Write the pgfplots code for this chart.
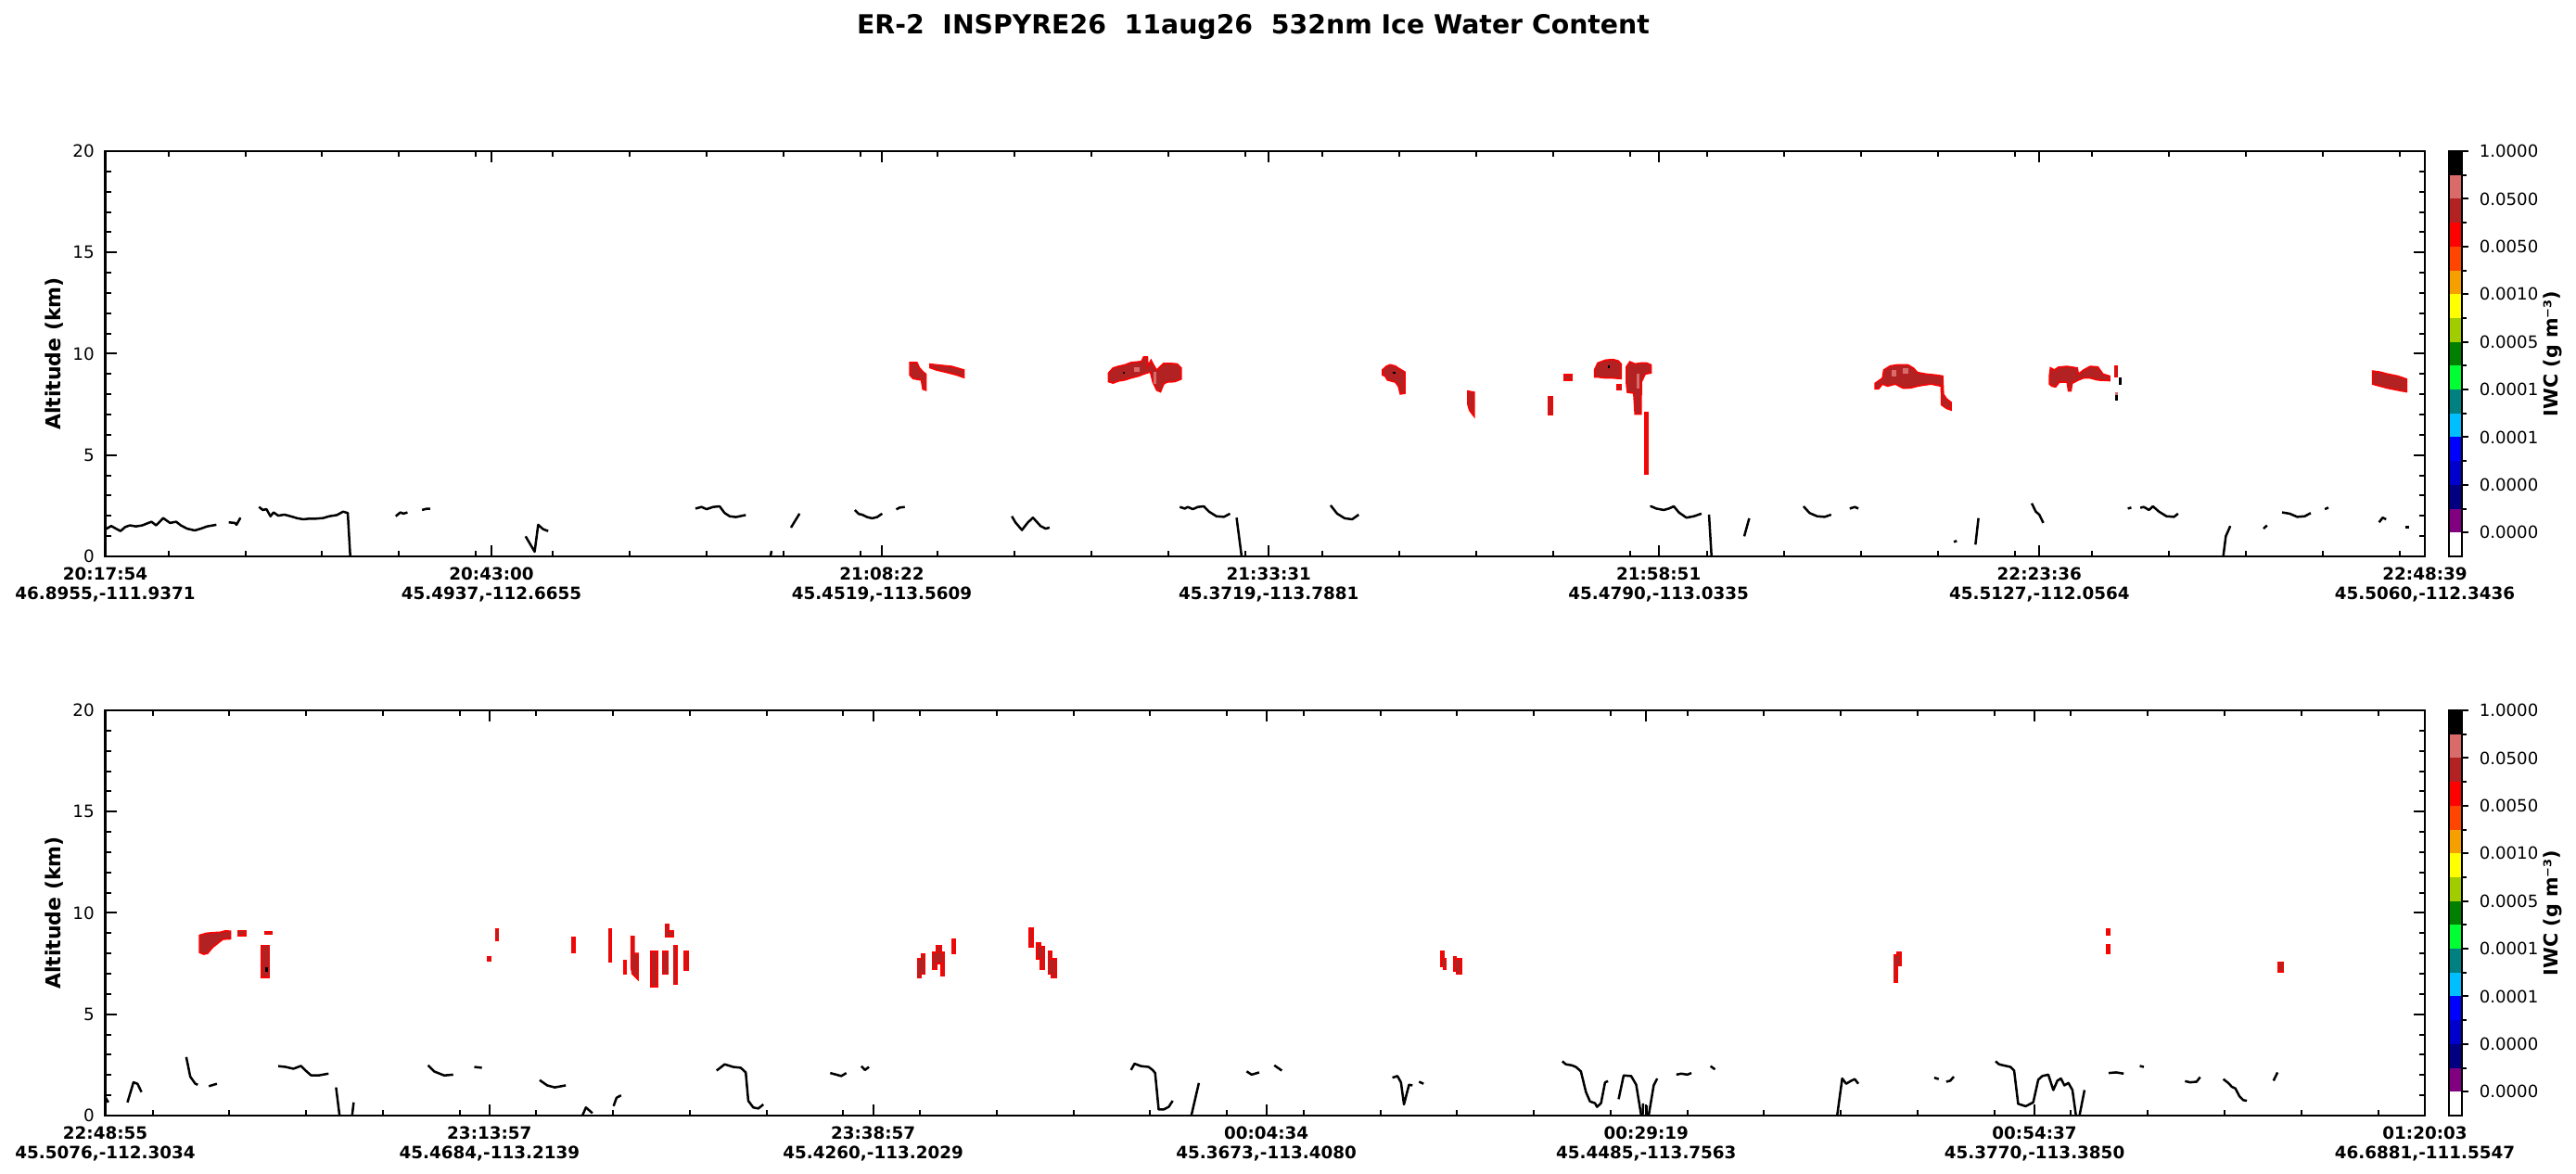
\documentclass[border=0pt]{standalone}
\usepackage{fontspec}
\setmainfont{DejaVu Sans}
\usepackage{pgfplots}
\pgfplotsset{compat=1.18}
\definecolor{cwhite}{HTML}{FFFFFF}
\definecolor{cpurple}{HTML}{800080}
\definecolor{cnavy}{HTML}{000080}
\definecolor{cmblue}{HTML}{0000CD}
\definecolor{cblue}{HTML}{0000FF}
\definecolor{csky}{HTML}{00BFFF}
\definecolor{cteal}{HTML}{008080}
\definecolor{clime}{HTML}{00FF33}
\definecolor{cgreen}{HTML}{008000}
\definecolor{cygreen}{HTML}{A0CC00}
\definecolor{cyellow}{HTML}{FFFF00}
\definecolor{corange}{HTML}{F5A000}
\definecolor{cored}{HTML}{FF4500}
\definecolor{cred}{HTML}{FF0000}
\definecolor{cdred}{HTML}{B22222}
\definecolor{cpink}{HTML}{D96B6B}
\definecolor{cblack}{HTML}{000000}
\pgfplotsset{
  panel/.style={
    scale only axis, width=750.45pt, height=131.1pt, anchor=south west,
    ymin=0, ymax=20, ytick={0,5,10,15,20},
    minor ytick={1,2,3,4,6,7,8,9,11,12,13,14,16,17,18,19},
    axis line style={line width=0.8pt},
    major tick style={line width=0.6pt, black},
    minor tick style={line width=0.6pt, black},
    major tick length=3.7pt, minor tick length=1.9pt,
    tick align=inside,
    /pgf/number format/assume math mode=true,
    yticklabel style={font=\fontsize{5.5}{6.6}\selectfont},
    xticklabel style={font=\fontsize{5.5}{6.3}\selectfont\bfseries, align=center},
    ylabel={Altitude (km)},
    ylabel style={font=\fontsize{6.6}{7.9}\selectfont\bfseries, at={(axis description cs:-0.0218,0.5)}, anchor=center},
  },
  terr/.style={black, line width=0.75pt, line join=round, no markers},
  cld/.style={fill=cdred, draw=cred, line width=0.45pt, no markers},
  cpk/.style={fill=cpink, draw=none, no markers},
  cbk/.style={fill=black, draw=none, no markers},
  cbar/.style={scale only axis, width=4.2pt, height=131.1pt, anchor=south west,
    xmin=0, xmax=1, ymin=0, ymax=17, xtick=\empty,
    ytick={1,3,...,17},
    yticklabels={0.0000,0.0000,0.0001,0.0001,0.0005,0.0010,0.0050,0.0500,1.0000},
    minor ytick={2,4,...,16}, ytick pos=right, yticklabel pos=right, tick align=outside,
    axis line style={line width=0.8pt},
    major tick style={line width=0.6pt, black}, minor tick style={line width=0.6pt, black},
    major tick length=2.1pt, minor tick length=1.5pt,
    yticklabel style={font=\fontsize{5.45}{6.5}\selectfont},
    ylabel={IWC (g m⁻³)},
    ylabel style={font=\fontsize{6.2}{7.4}\selectfont\bfseries, at={(axis description cs:7.96,0.5)}, anchor=center},
    axis on top},
  cell/.style={draw=none, fill=#1, no markers}
}
\newcommand{\colorcells}{%
  \addplot[cell=cwhite]   coordinates {(0,0) (1,0) (1,1) (0,1)} -- cycle;
  \addplot[cell=cpurple]  coordinates {(0,1) (1,1) (1,2) (0,2)} -- cycle;
  \addplot[cell=cnavy]    coordinates {(0,2) (1,2) (1,3) (0,3)} -- cycle;
  \addplot[cell=cmblue]   coordinates {(0,3) (1,3) (1,4) (0,4)} -- cycle;
  \addplot[cell=cblue]    coordinates {(0,4) (1,4) (1,5) (0,5)} -- cycle;
  \addplot[cell=csky]     coordinates {(0,5) (1,5) (1,6) (0,6)} -- cycle;
  \addplot[cell=cteal]    coordinates {(0,6) (1,6) (1,7) (0,7)} -- cycle;
  \addplot[cell=clime]    coordinates {(0,7) (1,7) (1,8) (0,8)} -- cycle;
  \addplot[cell=cgreen]   coordinates {(0,8) (1,8) (1,9) (0,9)} -- cycle;
  \addplot[cell=cygreen]  coordinates {(0,9) (1,9) (1,10) (0,10)} -- cycle;
  \addplot[cell=cyellow]  coordinates {(0,10) (1,10) (1,11) (0,11)} -- cycle;
  \addplot[cell=corange]  coordinates {(0,11) (1,11) (1,12) (0,12)} -- cycle;
  \addplot[cell=cored]    coordinates {(0,12) (1,12) (1,13) (0,13)} -- cycle;
  \addplot[cell=cred]     coordinates {(0,13) (1,13) (1,14) (0,14)} -- cycle;
  \addplot[cell=cdred]    coordinates {(0,14) (1,14) (1,15) (0,15)} -- cycle;
  \addplot[cell=cpink]    coordinates {(0,15) (1,15) (1,16) (0,16)} -- cycle;
  \addplot[cell=cblack]   coordinates {(0,16) (1,16) (1,17) (0,17)} -- cycle;
}
\begin{document}
\begin{tikzpicture}
\path[use as bounding box] (0,0) rectangle (833.4pt,379.8pt);
\node[anchor=base] at (405.45pt,368.7pt) {\fontsize{8.5}{10}\selectfont\bfseries ER-2\ \ INSPYRE26\ \ 11aug26\ \ 532nm Ice Water Content};

% ---------------- top panel ----------------
\begin{axis}[panel, at={(34.05pt,199.8pt)},
  xmin=0, xmax=9045,
  xtick={0,1506,3028,4537,6057,7542,9045},
  xticklabels={{20:17:54\\46.8955,-111.9371},{20:43:00\\45.4937,-112.6655},{21:08:22\\45.4519,-113.5609},{21:33:31\\45.3719,-113.7881},{21:58:51\\45.4790,-113.0335},{22:23:36\\45.5127,-112.0564},{22:48:39\\45.5060,-112.3436}},
  minor xtick={246,546,...,8946}]
% clouds
\addplot[cld] coordinates {(3137,9.57) (3165,9.57) (3175,9.3) (3190,9.1) (3200,9.0) (3200,8.2) (3188,8.25) (3182,8.7) (3150,8.77) (3137,8.95)} -- cycle;
\addplot[cld] coordinates {(3216,9.49) (3260,9.43) (3300,9.38) (3349,9.2) (3349,8.82) (3320,8.95) (3280,9.08) (3240,9.2) (3216,9.31)} -- cycle;
\addplot[cld] coordinates {(3912,8.62) (3912,9.05) (3930,9.3) (3950,9.38) (3975,9.45) (4000,9.57) (4040,9.62) (4049,9.84) (4064,9.84) (4066,9.4) (4078,9.69) (4090,9.4) (4100,9.2) (4127,9.53) (4150,9.53) (4180,9.5) (4196,9.3) (4196,8.75) (4170,8.62) (4140,8.6) (4127,8.5) (4115,8.12) (4100,8.2) (4085,8.6) (4075,9.1) (4050,9.0) (4030,8.9) (4000,8.8) (3975,8.7) (3950,8.65) (3930,8.55)} -- cycle;
\addplot[cpk] coordinates {(4088,8.5) (4100,8.5) (4100,9.1) (4088,9.1)} -- cycle;
\addplot[cpk] coordinates {(4010,9.1) (4035,9.1) (4035,9.35) (4010,9.35)} -- cycle;
\addplot[cbk] coordinates {(3968,9.0) (3976,9.0) (3976,9.1) (3968,9.1)} -- cycle;
\addplot[cld] coordinates {(4980,9.2) (4995,9.38) (5010,9.46) (5030,9.4) (5040,9.31) (5068,9.1) (5068,8.05) (5050,8.01) (5042,8.4) (5030,8.6) (5000,8.70) (4990,8.9) (4980,8.95)} -- cycle;
\addplot[cbk] coordinates {(5022,9.0) (5030,9.0) (5030,9.1) (5022,9.1)} -- cycle;
\addplot[cld] coordinates {(5313,8.16) (5338,8.1) (5338,6.9) (5320,7.2) (5313,7.5)} -- cycle;
\addplot[cld] coordinates {(5627,7.90) (5642,7.90) (5642,6.97) (5627,6.97)} -- cycle;
\addplot[cld] coordinates {(5690,8.97) (5719,8.97) (5719,8.70) (5690,8.70)} -- cycle;
\addplot[cld] coordinates {(5807,9.2) (5820,9.55) (5850,9.69) (5880,9.72) (5900,9.65) (5911,9.5) (5911,8.77) (5880,8.8) (5850,8.8) (5820,8.85) (5807,8.85)} -- cycle;
\addplot[cld] coordinates {(5895,8.46) (5911,8.46) (5911,8.21) (5895,8.21)} -- cycle;
\addplot[cld] coordinates {(5931,9.35) (5945,9.61) (5965,9.5) (5990,9.55) (6010,9.55) (6028,9.45) (6028,9.05) (6005,9.0) (5990,8.6) (5989,7.02) (5965,7.02) (5960,8.05) (5935,8.1) (5931,8.6)} -- cycle;
\addplot[cpk] coordinates {(5970,8.3) (5982,8.3) (5982,9.0) (5970,9.0)} -- cycle;
\addplot[cbk] coordinates {(5860,9.3) (5868,9.3) (5868,9.45) (5860,9.45)} -- cycle;
\addplot[cld] coordinates {(6004,7.1) (6015,7.1) (6015,4.04) (6004,4.04)} -- cycle;
\addplot[cld] coordinates {(6901,8.27) (6901,8.54) (6930,8.8) (6935,9.2) (6960,9.4) (6990,9.46) (7030,9.45) (7050,9.3) (7067,9.08) (7100,9.0) (7140,8.95) (7165,8.9) (7168,8.0) (7180,7.78) (7198,7.6) (7198,7.22) (7180,7.3) (7160,7.48) (7159,8.4) (7120,8.5) (7090,8.45) (7067,8.4) (7040,8.31) (7010,8.3) (6980,8.5) (6950,8.4) (6930,8.5) (6915,8.27)} -- cycle;
\addplot[cpk] coordinates {(6965,8.9) (6985,8.9) (6985,9.2) (6965,9.2)} -- cycle;
\addplot[cpk] coordinates {(7010,9.0) (7030,9.0) (7030,9.3) (7010,9.3)} -- cycle;
\addplot[cld] coordinates {(7581,8.9) (7585,9.31) (7600,9.2) (7616,9.34) (7650,9.38) (7690,9.3) (7694,9.0) (7714,9.2) (7740,9.38) (7770,9.35) (7790,9.0) (7816,8.9) (7816,8.67) (7770,8.7) (7740,8.8) (7714,8.8) (7694,8.7) (7670,8.54) (7665,8.16) (7655,8.16) (7650,8.6) (7620,8.6) (7605,8.36) (7590,8.4) (7581,8.5)} -- cycle;
\addplot[cld] coordinates {(7836,9.38) (7847,9.38) (7847,8.85) (7836,8.85)} -- cycle;
\addplot[cbk] coordinates {(7851,8.82) (7861,8.82) (7861,8.47) (7851,8.47)} -- cycle;
\addplot[cpk] coordinates {(7836,8.09) (7847,8.09) (7847,7.95) (7836,7.95)} -- cycle;
\addplot[cbk] coordinates {(7836,7.95) (7847,7.95) (7847,7.70) (7836,7.70)} -- cycle;
\addplot[cld] coordinates {(8841,8.8) (8841,9.15) (8870,9.1) (8900,9.0) (8940,8.9) (8974,8.75) (8974,8.12) (8940,8.2) (8900,8.3) (8870,8.4) (8841,8.5)} -- cycle;
% terrain
\addplot[terr] coordinates {(0,1.35) (5.5,1.37) (23.5,1.50) (41.6,1.37) (59.7,1.25) (77.8,1.45) (95.9,1.53) (120,1.48) (144.1,1.53) (168.2,1.65) (180.3,1.71) (198.4,1.53) (226.1,1.89) (252.6,1.65) (276.7,1.71) (294.8,1.53) (318.9,1.37) (349,1.28) (373.1,1.37) (397.2,1.48) (433.4,1.56)};
\addplot[terr] coordinates {(481.6,1.68) (505.7,1.65) (511.7,1.56) (527.4,1.91)};
\addplot[terr] coordinates {(599.7,2.44) (614.2,2.29) (628.7,2.33) (644.3,1.98) (656.4,2.17) (674.5,2.01) (698.6,2.06) (722.7,1.98) (746.8,1.89) (770.9,1.83) (795,1.86) (819.1,1.86) (849.3,1.89) (873.4,1.98) (903.5,2.04) (927.6,2.21) (945.7,2.14) (955.4,0)};
\addplot[terr] coordinates {(1132.6,1.98) (1150.7,2.17) (1162.8,2.11) (1178.4,2.17)};
\addplot[terr] coordinates {(1235.3,2.29) (1252.9,2.35) (1266.7,2.35)};
\addplot[terr] coordinates {(1639.1,0.99) (1674.4,0.23) (1688.1,1.56) (1707.7,1.34) (1727.3,1.25)};
\addplot[terr] coordinates {(2301.6,2.36) (2325.1,2.44) (2344.7,2.33) (2370.2,2.44) (2395.7,2.47) (2415.3,2.14) (2434.9,1.98) (2458.5,1.94) (2497.7,2.04)};
\addplot[terr] coordinates {(2594,0) (2598,0.27)};
\addplot[terr] coordinates {(2673.9,1.42) (2707.3,2.11)};
\addplot[terr] coordinates {(2923,2.29) (2938.7,2.09) (2951,2.06) (2970.7,1.94) (2990.3,1.88) (3009.9,1.94) (3029.5,2.11)};
\addplot[terr] coordinates {(3084.4,2.32) (3098.1,2.41) (3117.7,2.44)};
\addplot[terr] coordinates {(3535.2,1.98) (3549,1.68) (3574.5,1.30) (3598,1.68) (3617.6,1.91) (3647,1.50) (3666.6,1.37) (3682.3,1.42)};
\addplot[terr] coordinates {(4190,2.44) (4209.5,2.36) (4221.3,2.44) (4240.9,2.33) (4260.5,2.44) (4284,2.47) (4303.6,2.21) (4333,1.98) (4362.4,1.95) (4386,2.11)};
\addplot[terr] coordinates {(4411.5,1.91) (4431.1,0)};
\addplot[terr] coordinates {(4778,2.52) (4803.5,2.11) (4832.9,1.88) (4862.3,1.83) (4887.8,2.06)};
\addplot[terr] coordinates {(6024.7,2.44) (6028.3,2.47) (6047.9,2.36) (6077.3,2.29) (6096.9,2.36) (6116.5,2.47) (6136.1,2.17) (6165.5,1.91) (6194.9,1.98) (6224.3,2.11)};
\addplot[terr] coordinates {(6253.7,2.06) (6263.5,0)};
\addplot[terr] coordinates {(6391,0.99) (6410.5,1.88)};
\addplot[terr] coordinates {(6622.2,2.47) (6645.8,2.14) (6675.2,1.98) (6704.6,1.95) (6730,2.06)};
\addplot[terr] coordinates {(6802.6,2.36) (6822.2,2.44) (6835.9,2.36)};
\addplot[terr] coordinates {(7208.3,0.72) (7220,0.76)};
\addplot[terr] coordinates {(7292.6,0.58) (7304.4,1.89)};
\addplot[terr] coordinates {(7512.2,2.62) (7527.8,2.21) (7541.6,2.06) (7557.3,1.65)};
\addplot[terr] coordinates {(7886.6,2.36) (7900.3,2.41)};
\addplot[terr] coordinates {(7935.6,2.40) (7949.3,2.44) (7969,2.29) (7984.6,2.47) (8008.1,2.21) (8037.5,1.98) (8066.9,1.95) (8082.6,2.11)};
\addplot[terr] coordinates {(8259,0) (8268.8,0.99) (8286.4,1.50)};
\addplot[terr] coordinates {(8415.8,1.37) (8429.5,1.53)};
\addplot[terr] coordinates {(8488.3,2.17) (8517.8,2.11) (8547.2,1.95) (8576.6,1.98) (8600.1,2.14)};
\addplot[terr] coordinates {(8655,2.33) (8668.7,2.41)};
\addplot[terr] coordinates {(8866.5,1.68) (8880.3,1.91) (8894,1.83)};
\addplot[terr] coordinates {(8968.6,1.45) (8984.3,1.45)};
\end{axis}

\begin{axis}[cbar, at={(792.3pt,199.8pt)}]
\colorcells
\end{axis}

% ---------------- bottom panel ----------------
\begin{axis}[panel, at={(34.05pt,18.9pt)},
  xmin=0, xmax=9068,
  xtick={0,1502,3002,4539,6024,7542,9068},
  xticklabels={{22:48:55\\45.5076,-112.3034},{23:13:57\\45.4684,-113.2139},{23:38:57\\45.4260,-113.2029},{00:04:34\\45.3673,-113.4080},{00:29:19\\45.4485,-113.7563},{00:54:37\\45.3770,-113.3850},{01:20:03\\46.6881,-111.5547}},
  minor xtick={185,485,...,8885}]
% clouds
\addplot[cld] coordinates {(368,8.9) (395,9.0) (420,9.03) (450,9.05) (470,9.12) (490,9.1) (490,8.72) (460,8.7) (440,8.5) (420,8.3) (400,8.0) (385,7.96) (368,8.05)} -- cycle;
\addplot[cld] coordinates {(519,9.13) (549,9.13) (549,8.87) (519,8.87)} -- cycle;
\addplot[cld] coordinates {(623,9.06) (653,9.06) (653,8.95) (623,8.95)} -- cycle;
\addplot[cld] coordinates {(610,8.39) (641,8.39) (641,6.82) (610,6.82)} -- cycle;
\addplot[cbk] coordinates {(625,7.3) (637,7.3) (637,7.1) (625,7.1)} -- cycle;
\addplot[cld] coordinates {(1496,7.85) (1508,7.85) (1508,7.63) (1496,7.63)} -- cycle;
\addplot[cld] coordinates {(1527,9.21) (1537,9.21) (1537,8.65) (1527,8.65)} -- cycle;
\addplot[cld] coordinates {(1826,8.80) (1836,8.80) (1836,8.04) (1826,8.04)} -- cycle;
\addplot[cld] coordinates {(1969,9.21) (1977,9.21) (1977,7.58) (1969,7.58)} -- cycle;
\addplot[cld] coordinates {(2028,7.66) (2036,7.66) (2036,7.0) (2028,7.0)} -- cycle;
\addplot[cld] coordinates {(2056,8.84) (2068,8.84) (2068,8.0) (2083,8.0) (2083,6.71) (2060,7.0) (2056,7.3)} -- cycle;
\addplot[cld] coordinates {(2134,8.11) (2158,8.11) (2158,6.36) (2134,6.36)} -- cycle;
\addplot[cld] coordinates {(2178,8.11) (2201,8.11) (2201,6.97) (2178,6.97)} -- cycle;
\addplot[cld] coordinates {(2190,8.83) (2190,9.44) (2203,9.44) (2203,9.1) (2223,9.1) (2223,8.83)} -- cycle;
\addplot[cld] coordinates {(2223,8.39) (2235,8.39) (2235,6.48) (2223,6.48)} -- cycle;
\addplot[cld] coordinates {(2264,8.11) (2278,8.11) (2278,7.17) (2264,7.17)} -- cycle;
\addplot[cld] coordinates {(3175,6.79) (3175,7.73) (3190,7.73) (3190,7.96) (3204,7.96) (3204,6.97) (3190,6.97) (3190,6.79)} -- cycle;
\addplot[cld] coordinates {(3234,7.24) (3234,8.06) (3250,8.06) (3250,8.39) (3268,8.39) (3268,8.06) (3279,8.06) (3279,6.89) (3268,6.89) (3268,7.5) (3250,7.5) (3250,7.24)} -- cycle;
\addplot[cld] coordinates {(3312,8.72) (3322,8.72) (3322,7.99) (3312,7.99)} -- cycle;
\addplot[cld] coordinates {(3613,9.25) (3627,9.25) (3627,8.34) (3613,8.34)} -- cycle;
\addplot[cld] coordinates {(3642,7.73) (3642,8.52) (3656,8.52) (3656,8.34) (3670,8.34) (3670,7.2) (3656,7.2) (3656,7.73)} -- cycle;
\addplot[cld] coordinates {(3686,6.97) (3686,8.11) (3700,8.11) (3700,7.73) (3717,7.73) (3717,6.79) (3700,6.79) (3700,6.97)} -- cycle;
\addplot[cld] coordinates {(5222,7.35) (5222,8.11) (5232,8.11) (5232,7.73) (5242,7.73) (5242,7.2) (5232,7.2) (5232,7.35)} -- cycle;
\addplot[cld] coordinates {(5272,7.15) (5272,7.85) (5282,7.85) (5282,7.73) (5301,7.73) (5301,6.97) (5282,6.97) (5282,7.15)} -- cycle;
\addplot[cld] coordinates {(6993,6.59) (6993,7.91) (7006,7.91) (7006,8.07) (7020,8.07) (7020,7.40) (7006,7.40) (7006,6.59)} -- cycle;
\addplot[cld] coordinates {(7824,9.21) (7836,9.21) (7836,8.9) (7824,8.9)} -- cycle;
\addplot[cld] coordinates {(7824,8.42) (7836,8.42) (7836,8.0) (7824,8.0)} -- cycle;
\addplot[cld] coordinates {(8496,7.58) (8516,7.58) (8516,7.09) (8496,7.09)} -- cycle;
% terrain
\addplot[terr] coordinates {(0,0.91) (12,0.65)};
\addplot[terr] coordinates {(86.8,0.65) (110.4,1.64) (126.1,1.57) (141.8,1.16)};
\addplot[terr] coordinates {(316.7,2.89) (332.4,1.92) (352.1,1.57) (361.9,1.52)};
\addplot[terr] coordinates {(405.1,1.45) (436.6,1.57)};
\addplot[terr] coordinates {(676.3,2.44) (705.8,2.40) (735.3,2.31) (764.8,2.45) (784.4,2.21) (804.1,1.99) (833.5,1.98) (872.9,2.07)};
\addplot[terr] coordinates {(902.3,1.39) (916,0)};
\addplot[terr] coordinates {(965.2,0) (971.1,0.65)};
\addplot[terr] coordinates {(1262,2.48) (1285.6,2.18) (1324.8,1.98) (1360.2,2.02)};
\addplot[terr] coordinates {(1442.8,2.40) (1472.3,2.36)};
\addplot[terr] coordinates {(1698.2,1.75) (1727.7,1.49) (1757.2,1.39) (1800.4,1.49)};
\addplot[terr] coordinates {(1865.3,0) (1879,0.40) (1904.6,0.12)};
\addplot[terr] coordinates {(1987.1,0.47) (1998.9,0.88) (2016.6,1.0)};
\addplot[terr] coordinates {(2390,2.22) (2421.4,2.53) (2454.8,2.40) (2484.3,2.36) (2503.9,2.13) (2513.8,0.73) (2533.4,0.40) (2553.1,0.35) (2572.7,0.55)};
\addplot[terr] coordinates {(2834.1,2.10) (2857.7,2.02) (2877.4,1.95) (2897,2.10)};
\addplot[terr] coordinates {(2956,2.44) (2969.8,2.25) (2985.5,2.40)};
\addplot[terr] coordinates {(4010,2.25) (4023.8,2.56) (4049.3,2.44) (4078.8,2.40) (4094.5,2.25) (4104.3,2.10) (4118.1,0.30) (4137.7,0.30) (4157.4,0.43) (4173.1,0.73)};
\addplot[terr] coordinates {(4245.8,0) (4275.3,1.61)};
\addplot[terr] coordinates {(4462,2.18) (4481.6,2.02) (4511.1,2.13)};
\addplot[terr] coordinates {(4570.1,2.48) (4599.6,2.22)};
\addplot[terr] coordinates {(5031.9,1.87) (5051.6,1.95) (5065.3,1.64) (5077.1,0.55) (5096.8,1.52) (5110.5,1.49)};
\addplot[terr] coordinates {(5136,1.67) (5153.7,1.57)};
\addplot[terr] coordinates {(5696.1,2.68) (5709.9,2.53) (5733.5,2.48) (5749.2,2.40) (5768.8,2.18) (5788.5,1.16) (5804.2,0.70) (5823.9,0.61) (5831.7,0.43) (5847.4,0.61) (5863.2,1.64) (5874.9,1.70)};
\addplot[terr] coordinates {(5916.2,0.81) (5935.9,1.98) (5965.3,1.95) (5985,1.52) (6004.6,0)};
\addplot[terr] coordinates {(6010,0) (6012,0.6)};
\addplot[terr] coordinates {(6024,0) (6024,0.5)};
\addplot[terr] coordinates {(6033.7,0) (6053.3,1.49) (6067.1,1.83)};
\addplot[terr] coordinates {(6141.8,2.02) (6161.4,2.07) (6185,2.02) (6200.7,2.10)};
\addplot[terr] coordinates {(6275.4,2.44) (6293.1,2.28)};
\addplot[terr] coordinates {(6770.6,0) (6790.3,1.83) (6806,1.57) (6825.7,1.72) (6839.4,1.80) (6853.2,1.57)};
\addplot[terr] coordinates {(7149.9,1.87) (7167.6,1.80)};
\addplot[terr] coordinates {(7197,1.67) (7212.8,1.72) (7226.5,1.92)};
\addplot[terr] coordinates {(7389.7,2.68) (7403.4,2.53) (7423.1,2.47) (7448.6,2.40) (7462.4,2.22) (7478.1,0.58) (7507.6,0.46) (7521.3,0.55) (7537,0.65) (7556.7,1.77) (7572.4,1.95) (7596,2.02) (7615.6,1.26) (7631.4,1.72) (7645.1,1.83) (7658.9,1.49) (7674.6,1.61) (7690.3,1.26) (7704.1,0)};
\addplot[terr] coordinates {(7717.9,0) (7737.5,1.26)};
\addplot[terr] coordinates {(7831.8,2.10) (7861.2,2.13) (7890.7,2.07)};
\addplot[terr] coordinates {(7953.7,2.45) (7969.4,2.40)};
\addplot[terr] coordinates {(8130.5,1.70) (8150.2,1.64) (8175.7,1.67) (8189.5,1.90)};
\addplot[terr] coordinates {(8280,1.80) (8299.6,1.61) (8313.4,1.42) (8327.2,1.34) (8342.9,0.96) (8358.6,0.76) (8372.4,0.73)};
\addplot[terr] coordinates {(8476.4,1.72) (8492.1,2.13)};
\end{axis}

\begin{axis}[cbar, at={(792.3pt,18.9pt)}]
\colorcells
\end{axis}
\end{tikzpicture}
\end{document}
